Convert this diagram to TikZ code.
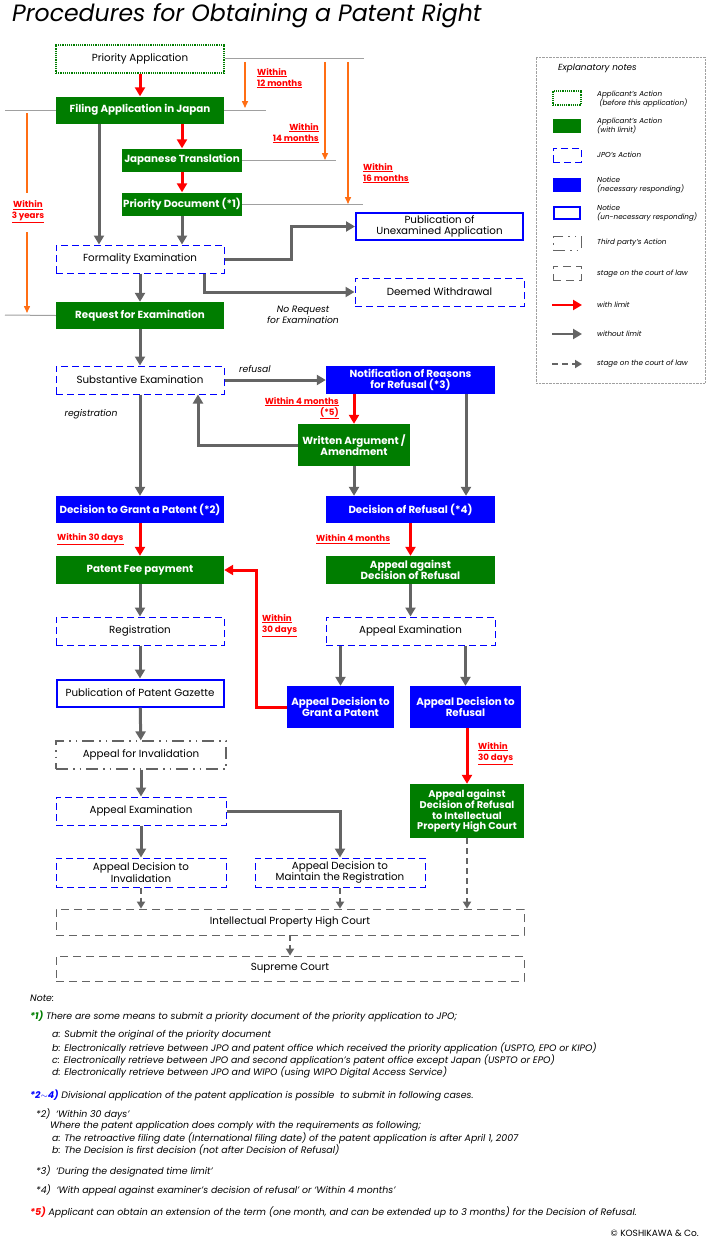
\documentclass[tikz,border=0pt]{standalone}
\usepackage{fontspec}
\setmainfont{Poppins}
\usetikzlibrary{arrows.meta}
\definecolor{gfill}{RGB}{0,125,0}
\definecolor{bfill}{RGB}{0,0,255}
\definecolor{dgray}{RGB}{100,100,100}
\definecolor{lgray}{RGB}{160,160,160}
\definecolor{org}{RGB}{255,110,20}
\begin{document}
\begin{tikzpicture}[x=1pt,y=-1pt,
 base/.style={align=center,inner sep=1pt,font=\fontsize{10.3}{11.5}\selectfont},
 green/.style={base,fill=gfill,text=white,font=\fontsize{10.3}{11.5}\selectfont\bfseries},
 bluef/.style={base,fill=bfill,text=white,font=\fontsize{10.3}{11.5}\selectfont\bfseries},
 gdot/.style={base,draw=gfill,densely dotted,line width=1.2pt},
 jpo/.style={base,draw=bfill,line width=1pt,dash pattern=on 7pt off 4pt},
 notice/.style={base,draw=bfill,line width=2pt},
 third/.style={base,draw=dgray,line width=1.2pt,dash pattern=on 12pt off 5pt on 1.5pt off 5pt on 1.5pt off 5pt},
 court/.style={base,draw=dgray,line width=0.8pt,dash pattern=on 8pt off 5pt},
 garr/.style={draw=dgray,line width=3pt,-{Triangle[length=9pt,width=10pt]}},
 rarr/.style={draw=red,line width=3pt,-{Triangle[length=9pt,width=10pt]}},
 darr/.style={draw=dgray,line width=2pt,dash pattern=on 6pt off 4pt,-{Triangle[length=7pt,width=8pt]}},
 oarr/.style={draw=org,line width=1.5pt,-{Triangle[length=7pt,width=6pt]}},
 tl/.style={draw=lgray,line width=1pt},
 lim/.style={text=red,font=\fontsize{8.7}{11}\selectfont\bfseries,align=left,inner sep=0pt},
 lab/.style={font=\fontsize{9.2}{11}\selectfont\itshape,inner sep=0pt},
 note/.style={font=\fontsize{9.4}{10.5}\selectfont\itshape,anchor=west,inner sep=0pt},
 leg/.style={font=\fontsize{7.2}{8.5}\selectfont\itshape,anchor=west,align=left,inner sep=0pt}]
\useasboundingbox (0,0) rectangle (709,1247);
\node[anchor=west,inner sep=0pt,font=\fontsize{23.6}{26}\selectfont\itshape] (title) at (12,16) {Procedures for Obtaining a Patent Right};
% nodes
\node[gdot,minimum width=168pt,minimum height=28pt] (pa) at (140,59) {Priority Application};
\node[green,minimum width=168pt,minimum height=27pt] (fj) at (140,110) {Filing Application in Japan};
\node[green,minimum width=120pt,minimum height=23pt] (jt) at (182,160) {Japanese Translation};
\node[green,minimum width=120pt,minimum height=23pt] (pd) at (182,204) {Priority Document (*1)};
\node[jpo,minimum width=168pt,minimum height=28pt] (fe) at (140,259) {Formality Examination};
\node[notice,minimum width=167pt,minimum height=27pt] (pu) at (439.5,226.5) {Publication of\\Unexamined Application};
\node[jpo,minimum width=169pt,minimum height=28pt] (dw) at (439.5,292) {Deemed Withdrawal};
\node[green,minimum width=168pt,minimum height=27pt] (re) at (140,315.5) {Request for Examination};
\node[jpo,minimum width=168pt,minimum height=28pt] (se) at (140,380) {Substantive Examination};
\node[bluef,minimum width=169pt,minimum height=28pt] (nr) at (410.5,380) {Notification of Reasons\\for Refusal (*3)};
\node[green,minimum width=112pt,minimum height=42pt] (wa) at (354,445) {Written Argument /\\Amendment};
\node[bluef,minimum width=168pt,minimum height=27pt] (dg) at (140,509.5) {Decision to Grant a Patent (*2)};
\node[bluef,minimum width=169pt,minimum height=27pt] (dr) at (410.5,509.5) {Decision of Refusal (*4)};
\node[green,minimum width=168pt,minimum height=28pt] (pf) at (140,570) {Patent Fee payment};
\node[green,minimum width=169pt,minimum height=28pt] (aa) at (410.5,570) {Appeal against\\Decision of Refusal};
\node[jpo,minimum width=168pt,minimum height=28pt] (rg) at (140,631) {Registration};
\node[jpo,minimum width=169pt,minimum height=28pt] (ae) at (410.5,631) {Appeal Examination};
\node[notice,minimum width=167pt,minimum height=27pt] (pg) at (140,693) {Publication of Patent Gazette};
\node[bluef,minimum width=107pt,minimum height=42pt] (ag) at (340.5,707) {Appeal Decision to\\Grant a Patent};
\node[bluef,minimum width=111pt,minimum height=42pt] (ar) at (465.5,707) {Appeal Decision to\\Refusal};
\node[third,minimum width=170pt,minimum height=28pt] (ai) at (141,755) {Appeal for Invalidation};
\node[green,minimum width=114pt,minimum height=54pt,font=\fontsize{9.8}{10.5}\selectfont\bfseries] (ip) at (467,811) {Appeal against\\Decision of Refusal\\to Intellectual\\Property High Court};
\node[jpo,minimum width=170pt,minimum height=28pt] (ae2) at (141,811) {Appeal Examination};
\node[jpo,minimum width=170pt,minimum height=29pt] (di) at (141,872.5) {Appeal Decision to\\Invalidation};
\node[jpo,minimum width=170pt,minimum height=29pt] (dm) at (340,872.5) {Appeal Decision to\\Maintain the Registration};
\node[court,minimum width=468pt,minimum height=26pt] (hc) at (290,922) {Intellectual Property High Court};
\node[court,minimum width=468pt,minimum height=25pt] (sc) at (290,968.5) {Supreme Court};
% timing lines
\coordinate (t1a) at (5,110); \coordinate (t1b) at (5,315);
\draw[tl] (pa.east) -- ++(139,0);
\draw[tl] (fj.east) -- ++(42,0);
\draw[tl] (fj.west) -- (t1a);
\draw[tl] (jt.east) -- ++(94,0);
\draw[tl] (pd.east) -- ++(121,0);
\draw[tl] (re.west) -- (t1b);
\coordinate (o1) at (245,62); \coordinate (o1e) at (245,108);
\coordinate (o2) at (325,62); \coordinate (o2e) at (325,160);
\coordinate (o3) at (348,62); \coordinate (o3e) at (348,204);
\coordinate (o4) at (27,113); \coordinate (o4m) at (27,193); \coordinate (o4n) at (27,232); \coordinate (o4e) at (27,313);
\draw[oarr] (o1) -- (o1e);
\draw[oarr] (o2) -- (o2e);
\draw[oarr] (o3) -- (o3e);
\draw[org,line width=1.5pt] (o4) -- (o4m);
\draw[oarr] (o4n) -- (o4e);
\node[lim,anchor=north west] (l12) at (257,68) {\underline{Within}\\\underline{12 months}};
\node[lim,anchor=north east,align=right] (l14) at (319,123) {\underline{Within}\\\underline{14 months}};
\node[lim,anchor=north west] (l16) at (363,163) {\underline{Within}\\\underline{16 months}};
\node[lim,align=center] (l3y) at (28,212) {\underline{Within}\\\underline{3 years}};
% arrows
\draw[rarr] (pa) -- (fj);
\draw[rarr] (jt.north |- fj.south) -- (jt.north);
\draw[rarr] (jt) -- (pd);
\draw[garr] ([xshift=-41pt]fj.south) -- ([xshift=-41pt]fe.north);
\draw[garr] (pd.south) -- (pd.south |- fe.north);
\draw[garr] (fe.east) -- ++(67,0) |- (pu.west);
\draw[garr] ([xshift=64pt]fe.south) |- (dw.west);
\node[lab,align=center] (nore) at (303,315) {No Request\\for Examination};
\draw[garr] (fe) -- (re);
\draw[garr] (re) -- (se);
\draw[garr] (se) -- node[lab,above=6pt,pos=0.3]{refusal} (nr);
\draw[garr] (se) -- (dg);
\node[lab] (regl) at (91,414) {registration};
\draw[rarr] (wa.north |- nr.south) -- (wa.north);
\node[lim,align=right,anchor=north east] (l4m) at (339,397) {\underline{Within 4 months}\\\underline{(*5)}};
\draw[garr] ([xshift=55.5pt]nr.south) -- ([xshift=55.5pt]dr.north);
\draw[garr] (wa.west) -| ([xshift=58pt]se.south);
\draw[garr] (wa.south) -- (wa.south |- dr.north);
\draw[rarr] (dg) -- (pf);
\node[lim,anchor=west] (l30a) at (57,539) {\underline{Within 30 days}};
\draw[rarr] (dr) -- (aa);
\node[lim,anchor=west] (l4b) at (316,539) {\underline{Within 4 months}};
\draw[garr] (pf) -- (rg);
\draw[garr] (aa) -- (ae);
\draw[garr] (ag.north |- ae.south) -- (ag.north);
\draw[garr] (ar.north |- ae.south) -- (ar.north);
\draw[rarr] (ag.west) -- ++(-30,0) |- (pf.east);
\node[lim,anchor=north west] (l30b) at (262,614) {\underline{Within}\\\underline{30 days}};
\draw[garr] (rg) -- (pg);
\draw[garr] (pg) -- (ai);
\draw[rarr] (ip.north |- ar.south) -- (ip.north);
\node[lim,anchor=north west] (l30c) at (478,742) {\underline{Within}\\\underline{30 days}};
\draw[garr] (ai) -- (ae2);
\draw[garr] (ae2) -- (di);
\draw[garr] (ae2.east) -| (dm.north);
\draw[darr] (di.south) -- (di.south |- hc.north);
\draw[darr] (dm.south) -- (dm.south |- hc.north);
\draw[darr] (ip.south) -- (ip.south |- hc.north);
\draw[darr] (hc) -- (sc);
% legend
\node[draw=lgray,densely dotted,minimum width=169pt,minimum height=326pt,inner sep=0pt] (lg) at (620.5,220) {};
\node[leg,font=\fontsize{8.8}{10}\selectfont\itshape] (lgt) at (558,68) {Explanatory notes};
\node[gdot,minimum width=28pt,minimum height=14pt] (s1) at (567,98) {};
\node[leg] (t1) at (597,99) {Applicant's Action\\\ (before this application)};
\node[green,minimum width=28pt,minimum height=14pt] (s2) at (567,126) {};
\node[leg] (t2) at (597,126) {Applicant's Action\\(with limit)};
\node[jpo,minimum width=28pt,minimum height=14pt] (s3) at (567,155) {};
\node[leg] (t3) at (597,155) {JPO's Action};
\node[bluef,minimum width=28pt,minimum height=14pt] (s4) at (567,185) {};
\node[leg] (t4) at (597,185) {Notice\\(necessary responding)};
\node[notice,minimum width=26pt,minimum height=12pt] (s5) at (567,213) {};
\node[leg] (t5) at (597,213) {Notice\\(un-necessary responding)};
\node[third,minimum width=28pt,minimum height=14pt,line width=1pt] (s6) at (567,243) {};
\node[leg] (t6) at (597,243) {Third party's Action};
\node[court,minimum width=28pt,minimum height=14pt] (s7) at (567,273) {};
\node[leg] (t7) at (597,274) {stage on the court of law};
\coordinate (a1) at (552,305); \coordinate (a1e) at (582,305);
\coordinate (a2) at (552,334); \coordinate (a2e) at (582,334);
\coordinate (a3) at (552,364); \coordinate (a3e) at (582,364);
\draw[rarr,line width=2.5pt] (a1) -- (a1e);
\node[leg] (t8) at (597,305) {with limit};
\draw[garr,line width=2.5pt] (a2) -- (a2e);
\node[leg] (t9) at (597,334) {without limit};
\draw[darr] (a3) -- (a3e);
\node[leg] (t10) at (597,364) {stage on the court of law};
% notes
\node[note] (n0) at (30,998) {Note:};
\node[note] (n1) at (30,1016) {\textcolor{gfill}{\bfseries *1)} There are some means to submit a priority document of the priority application to JPO;};
\node[note] (n1a) at (52,1035) {a: Submit the original of the priority document};
\node[note] (n1b) at (52,1048) {b: Electronically retrieve between JPO and patent office which received the priority application (USPTO, EPO or KIPO)};
\node[note] (n1c) at (52,1060) {c: Electronically retrieve between JPO and second application's patent office except Japan (USPTO or EPO)};
\node[note] (n1d) at (52,1072) {d: Electronically retrieve between JPO and WIPO (using WIPO Digital Access Service)};
\node[note] (n2) at (30,1095) {\textcolor{bfill}{\bfseries *2$\sim$4)} Divisional application of the patent application is possible\ \ to submit in following cases.};
\node[note] (n2a) at (36,1114) {*2)\ \ ‘Within 30 days’};
\node[note] (n2b) at (50,1126) {Where the patent application does comply with the requirements as following;};
\node[note] (n2c) at (52,1138) {a: The retroactive filing date (International filing date) of the patent application is after April 1, 2007};
\node[note] (n2d) at (52,1150) {b: The Decision is first decision (not after Decision of Refusal)};
\node[note] (n3) at (36,1171) {*3)\ \ ‘During the designated time limit’};
\node[note] (n4) at (36,1190) {*4)\ \ ‘With appeal against examiner's decision of refusal’ or ‘Within 4 months’};
\node[note] (n5) at (30,1212) {\textcolor{red}{\bfseries *5)} Applicant can obtain an extension of the term (one month, and can be extended up to 3 months) for the Decision of Refusal.};
\node[note,anchor=east,font=\fontsize{9}{10}\selectfont] (cp) at (699,1233) {© KOSHIKAWA \& Co.};
\end{tikzpicture}
\end{document}
